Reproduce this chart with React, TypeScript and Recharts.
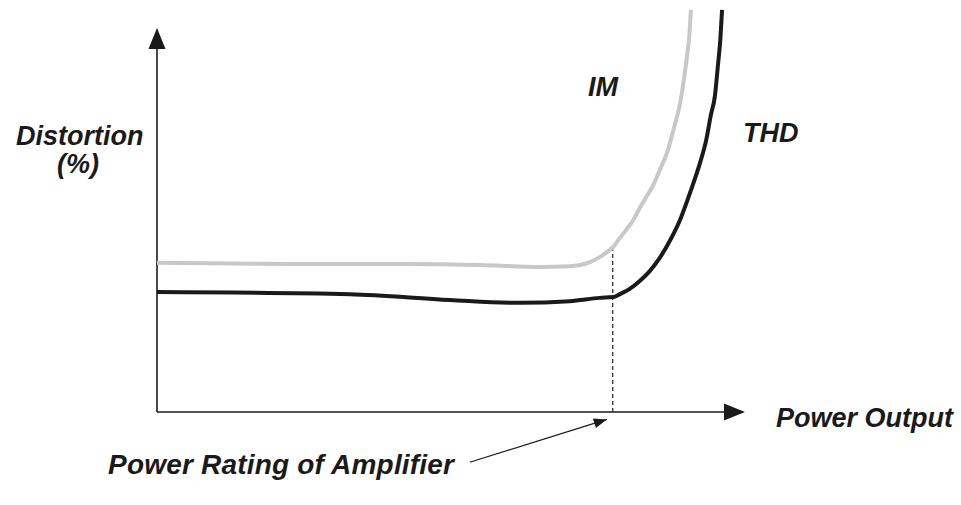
import React from 'react';
import { ComposedChart, Line, XAxis, YAxis, ReferenceLine, ReferenceDot } from 'recharts';

// IM distortion curve (grey)
const imX = [0, 24.3, 41.3, 54.9, 65.1, 70.2, 73.6, 75.3, 76.5, 77.6, 78.7, 79.9, 81.0, 82.1, 83.3, 84.4, 85.5, 86.9, 87.9, 89.0, 89.6, 90.1, 90.5, 90.8];
const imY = [36.2, 35.9, 35.9, 35.7, 35.2, 35.4, 36.4, 37.6, 38.8, 40.1, 42.2, 44.4, 46.6, 49.5, 52.4, 55.1, 58.7, 63.6, 68.9, 75.2, 80.6, 85.9, 90.8, 97.6];

// THD curve (black)
const thdX = [0, 32.8, 49.8, 61.7, 70.2, 75.3, 77.6, 78.7, 80.4, 82.1, 83.8, 85.5, 87.2, 89.0, 90.7, 92.4, 93.4, 94.2, 94.9, 95.4, 95.8, 96.1];
const thdY = [29.1, 28.6, 27.2, 26.5, 26.9, 27.7, 27.9, 28.6, 29.9, 31.8, 34.2, 37.4, 41.5, 46.8, 53.4, 60.7, 66.0, 72.1, 76.9, 84.2, 90.3, 97.6];

// power rating marker and axis extents
const ratingX = 77.5;
const ratingY = 40.5;
const xAxisEnd = 100;
const yAxisEnd = 93.2;
const pointerFrom = { x: 53.2, y: -12.2 };
const pointerTo = { x: 76.5, y: -1.8 };

const imData = imX.map((x, i) => ({ x, y: imY[i] }));
const thdData = thdX.map((x, i) => ({ x, y: thdY[i] }));

const W = 961;
const H = 505;
const INK = '#1b1a1a';

const ArrowUp = ({ cx, cy }: any) => (
  <polygon points={`${cx},${cy} ${cx - 8.5},${cy + 21} ${cx + 8.5},${cy + 21}`} fill={INK} />
);
const ArrowRight = ({ cx, cy }: any) => (
  <polygon points={`${cx},${cy} ${cx - 21},${cy - 8.5} ${cx - 21},${cy + 8.5}`} fill={INK} />
);
const PointerHead = ({ cx, cy }: any) => (
  <polygon
    points={`${cx},${cy} ${cx - 13},${cy - 5} ${cx - 13},${cy + 5}`}
    fill={INK}
    transform={`rotate(-17.5 ${cx} ${cy})`}
  />
);

const labelStyle: React.CSSProperties = {
  fontFamily: '"Liberation Sans", Arial, sans-serif',
  fontWeight: 'bold',
  fontStyle: 'italic',
  fontSize: 27,
  fill: INK,
};

export default function App() {
  return (
    <div style={{ position: 'absolute', left: 0, top: 0, width: W, height: H, background: '#fff' }}>
      <ComposedChart width={W} height={H} margin={{ top: 0, right: 216, bottom: 93, left: 157 }}>
        <XAxis type="number" dataKey="x" domain={[0, 100]} hide allowDataOverflow />
        <YAxis type="number" dataKey="y" domain={[0, 100]} hide allowDataOverflow />

        {/* axes */}
        <ReferenceLine segment={[{ x: 0, y: 0 }, { x: xAxisEnd - 2, y: 0 }]} stroke={INK} strokeWidth={1.6} ifOverflow="visible" />
        <ReferenceLine segment={[{ x: 0, y: 0 }, { x: 0, y: yAxisEnd - 2 }]} stroke={INK} strokeWidth={1.6} ifOverflow="visible" />
        <ReferenceDot x={xAxisEnd} y={0} r={1} shape={ArrowRight} ifOverflow="visible" />
        <ReferenceDot x={0} y={yAxisEnd} r={1} shape={ArrowUp} ifOverflow="visible" />

        {/* power rating marker */}
        <ReferenceLine segment={[{ x: ratingX, y: 0 }, { x: ratingX, y: ratingY }]} stroke="#333" strokeWidth={1.3} strokeDasharray="4 3" ifOverflow="visible" />
        <ReferenceLine segment={[pointerFrom, pointerTo]} stroke={INK} strokeWidth={1.2} ifOverflow="visible" />
        <ReferenceDot x={pointerTo.x} y={pointerTo.y} r={1} shape={PointerHead} ifOverflow="visible" />

        <Line data={imData} dataKey="y" type="monotone" stroke="#c8c8c8" strokeWidth={4} dot={false} isAnimationActive={false} />
        <Line data={thdData} dataKey="y" type="monotone" stroke={INK} strokeWidth={4} dot={false} isAnimationActive={false} />
      </ComposedChart>

      <svg width={W} height={H} style={{ position: 'absolute', left: 0, top: 0, pointerEvents: 'none' }}>
        <text x={16} y={145} style={labelStyle}>Distortion</text>
        <text x={78} y={173} textAnchor="middle" style={labelStyle}>(%)</text>
        <text x={588} y={96} style={labelStyle}>IM</text>
        <text x={743} y={142} style={labelStyle}>THD</text>
        <text x={776} y={427} style={labelStyle}>Power Output</text>
        <text x={108} y={474} style={{ ...labelStyle, fontSize: 28, letterSpacing: 0.2 }}>Power Rating of Amplifier</text>
      </svg>
    </div>
  );
}
